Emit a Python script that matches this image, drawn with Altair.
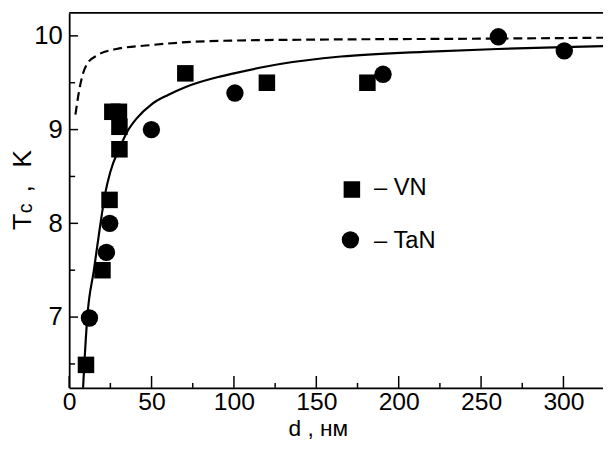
import altair as alt
import pandas as pd

# ---- data ----
vn_d = [10.2, 20.2, 24.5, 26.2, 30.2, 30.5, 30.5, 70.5, 120, 181]
vn_t = [6.49, 7.5, 8.25, 9.19, 9.19, 9.03, 8.79, 9.6, 9.5, 9.5]

tan_d = [12.3, 22.6, 24.6, 49.9, 100.6, 190.5, 260.5, 300.5]
tan_t = [6.99, 7.69, 8.0, 9.0, 9.39, 9.59, 9.99, 9.84]

solid_d = [8.3, 9.2, 11, 15, 18.6, 22, 25, 31, 35, 41, 50, 60, 70, 88, 100, 128, 165, 215, 260, 300, 324]
solid_t = [6.2, 6.5, 7.0, 7.5, 7.95, 8.33, 8.55, 8.82, 8.97, 9.12, 9.27, 9.37, 9.45, 9.55, 9.6, 9.7, 9.78, 9.83, 9.86, 9.88, 9.89]

dash_d = [3.8, 5.8, 7.8, 10.8, 16.8, 28.7, 48.7, 68.7, 100, 150, 250, 324]
dash_t = [9.16, 9.39, 9.56, 9.7, 9.79, 9.86, 9.9, 9.93, 9.95, 9.96, 9.97, 9.98]

x_labels = [0, 50, 100, 150, 200, 250, 300]
x_minor = [25, 75, 125, 175, 225, 275]
y_labels = [7, 8, 9, 10]
y_minor = [6.5, 7.5, 8.5, 9.5]

x_title = "d , нм"
legend_vn = "– VN"
legend_tan = "– TaN"

# ---- layout ----
W, H = 541, 380
FONT = "Liberation Sans"

vn = pd.DataFrame({"d": vn_d, "t": vn_t})
tan = pd.DataFrame({"d": tan_d, "t": tan_t})
solid = pd.DataFrame({"d": solid_d, "t": solid_t})
dash = pd.DataFrame({"d": dash_d, "t": dash_t})
xmaj = pd.DataFrame({"v": x_labels})
xmin = pd.DataFrame({"v": x_minor})
ymaj = pd.DataFrame({"v": y_labels})
ymin = pd.DataFrame({"v": y_minor})
one = pd.DataFrame({"k": [0]})

xs = alt.Scale(domain=[0, 324], nice=False, zero=False)
ys = alt.Scale(domain=[6.245, 10.245], nice=False, zero=False)

x_axis = alt.Axis(
    values=x_labels, format="d", ticks=False, tickSize=0, grid=False,
    domainColor="black", domainWidth=1.8,
    labelFont=FONT, labelFontSize=25, labelColor="black", labelPadding=2,
    labelFlush=False, labelOverlap=False,
    title=x_title, titleFont=FONT, titleFontSize=23, titleFontWeight="normal",
    titleColor="black", titleX=252, titleY=48, titleBaseline="alphabetic",
    titleAlign="center",
)
y_axis = alt.Axis(
    values=y_labels, format="d", ticks=False, tickSize=0, grid=False,
    domainColor="black", domainWidth=1.8,
    labelFont=FONT, labelFontSize=26, labelColor="black", labelPadding=7,
    labelFlush=False, labelOverlap=False, title=None,
)

X = lambda f: alt.X(f, scale=xs, axis=x_axis)
Y = lambda f: alt.Y(f, scale=ys, axis=y_axis)

solid_line = alt.Chart(solid).mark_line(
    color="black", strokeWidth=2.2, clip=True, interpolate="monotone"
).encode(x=X("d:Q"), y=Y("t:Q"), order="d:Q")

dash_line = alt.Chart(dash).mark_line(
    color="black", strokeWidth=2.2, strokeDash=[9, 5], clip=True, interpolate="monotone"
).encode(x=X("d:Q"), y=Y("t:Q"), order="d:Q")

squares = alt.Chart(vn).mark_square(
    size=280, color="black", opacity=1, strokeWidth=0
).encode(x=X("d:Q"), y=Y("t:Q"))

circles = alt.Chart(tan).mark_circle(
    size=310, color="black", opacity=1, strokeWidth=0
).encode(x=X("d:Q"), y=Y("t:Q"))

xt_major = alt.Chart(xmaj).mark_rule(color="black", strokeWidth=1.5).encode(
    x=X("v:Q"), y=alt.value(H), y2=alt.value(H - 12))
xt_minor = alt.Chart(xmin).mark_rule(color="black", strokeWidth=1.5).encode(
    x=X("v:Q"), y=alt.value(H), y2=alt.value(H - 5))
yt_major = alt.Chart(ymaj).mark_rule(color="black", strokeWidth=1.5).encode(
    y=Y("v:Q"), x=alt.value(0), x2=alt.value(9))
yt_minor = alt.Chart(ymin).mark_rule(color="black", strokeWidth=1.5).encode(
    y=Y("v:Q"), x=alt.value(0), x2=alt.value(6))

top_border = alt.Chart(one).mark_rule(color="black", strokeWidth=1.8).encode(
    x=alt.value(0), x2=alt.value(W), y=alt.value(0))


def label(txt, x, y, size, angle=0):
    return alt.Chart(one).mark_text(
        font=FONT, fontSize=size, color="black", align="left",
        baseline="alphabetic", angle=angle,
    ).encode(x=alt.value(x), y=alt.value(y), text=alt.value(txt))


leg_sq = alt.Chart(one).mark_square(size=280, color="black", opacity=1, strokeWidth=0).encode(
    x=alt.value(286.5), y=alt.value(179))
leg_ci = alt.Chart(one).mark_circle(size=310, color="black", opacity=1, strokeWidth=0).encode(
    x=alt.value(285), y=alt.value(230))

texts = [
    label(legend_vn, 309, 185, 24),
    label(legend_tan, 309, 238, 24),
    label("T", -39, 220, 27, 270),
    label("c", -37.5, 203, 20, 270),
    label(",", -39, 182, 27, 270),
    label("K", -39, 157, 27, 270),
]

chart = alt.layer(
    solid_line, dash_line, squares, circles,
    xt_major, xt_minor, yt_major, yt_minor, top_border,
    leg_sq, leg_ci, *texts,
).properties(
    width=W, height=H,
    autosize=alt.AutoSizeParams(type="none"),
    padding={"left": 62, "top": 2, "right": 0, "bottom": 58},
    background="white",
).configure_view(stroke=None)

chart.save("out.html", embed_options={"renderer": "svg", "actions": False})
